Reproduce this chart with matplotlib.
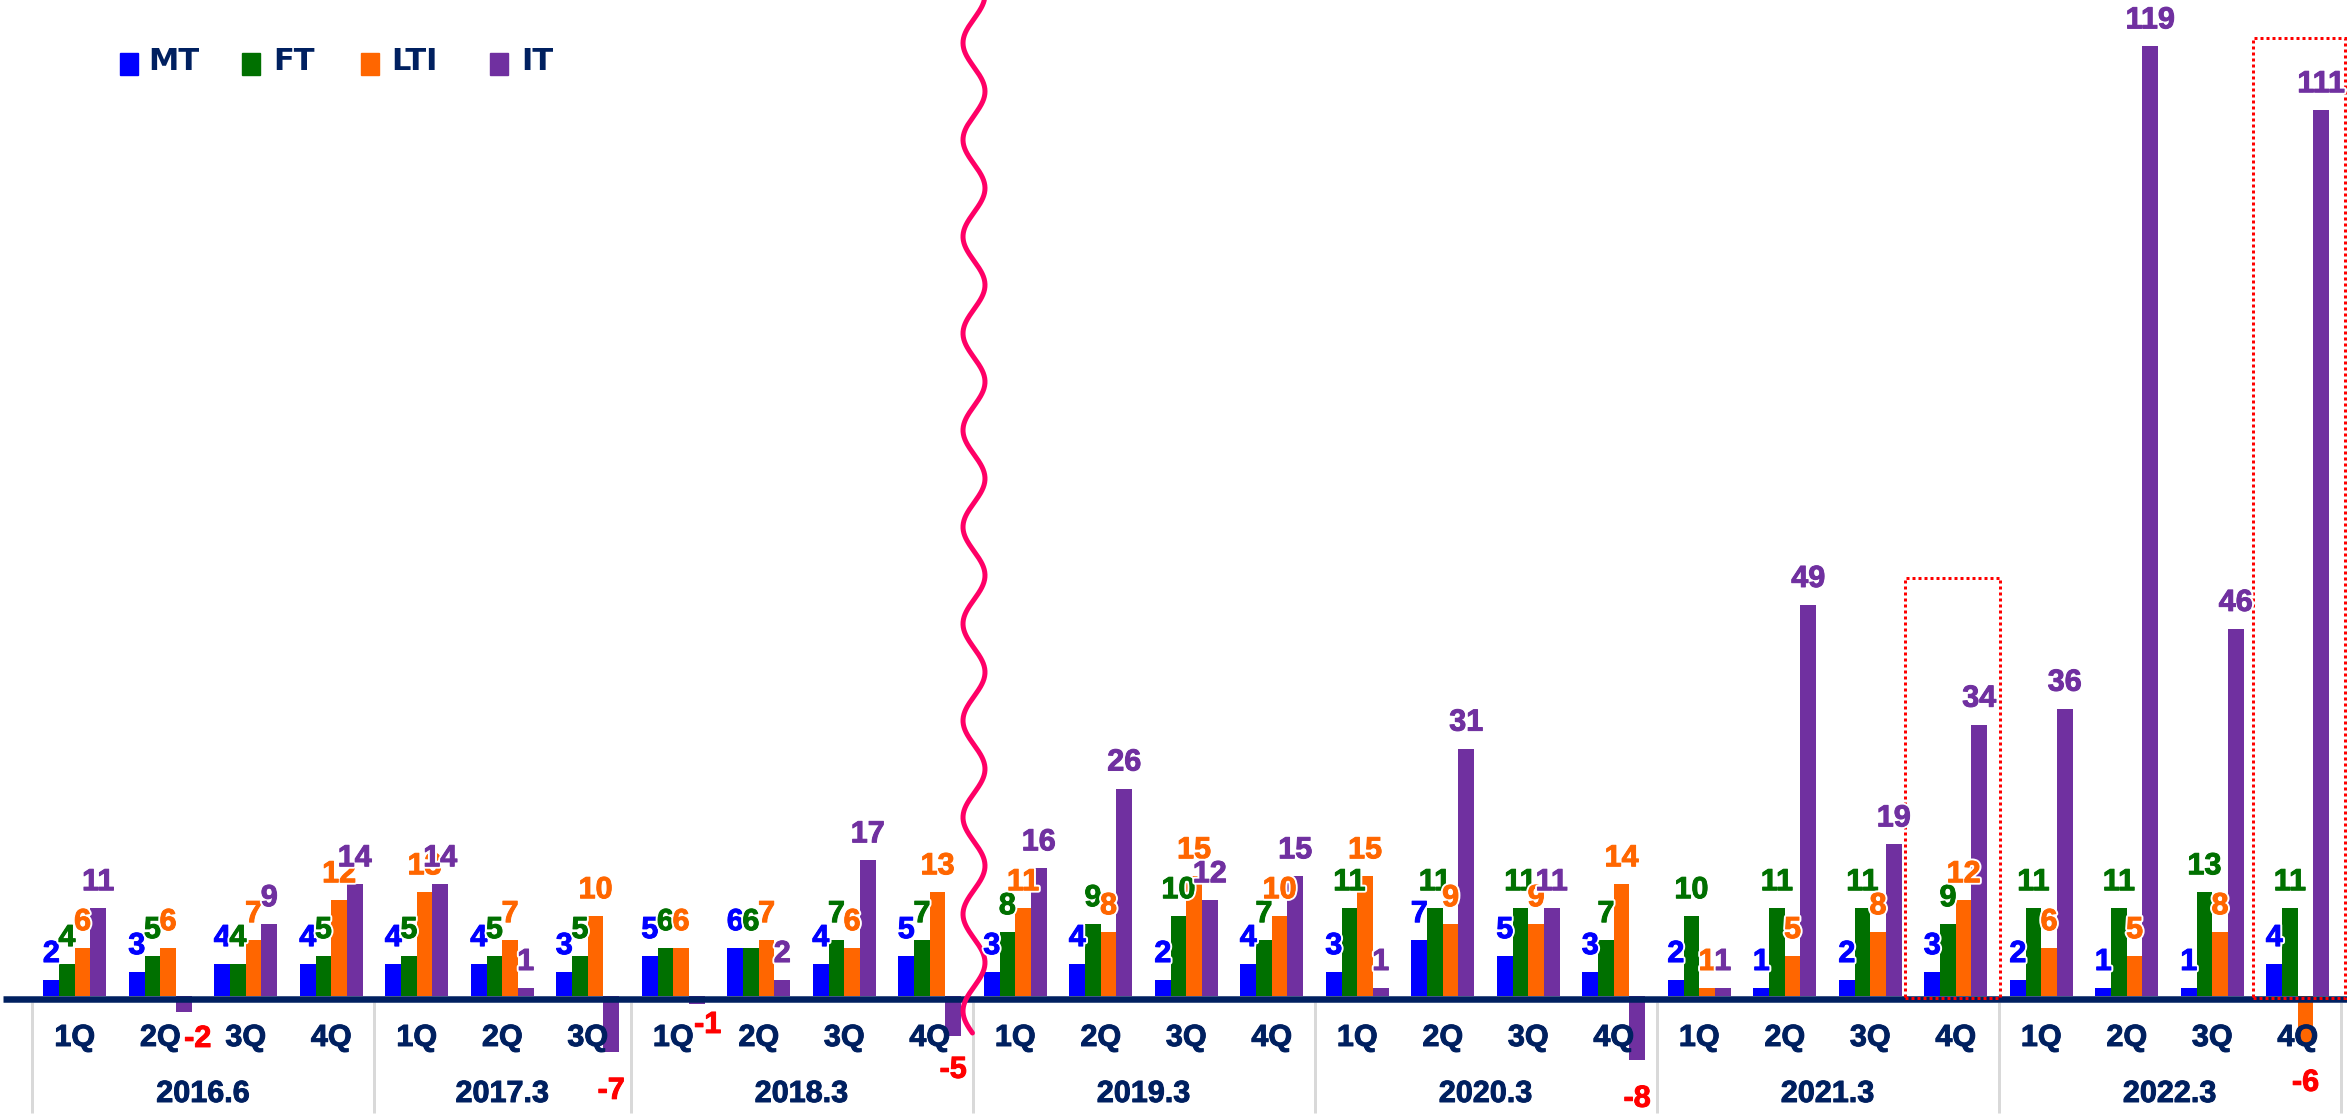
import matplotlib
matplotlib.use("Agg")
import matplotlib.pyplot as plt
import numpy as np
from matplotlib.patches import Rectangle
import matplotlib.patheffects as pe

# ---------------- data ----------------
years = ["2016.6", "2017.3", "2018.3", "2019.3", "2020.3", "2021.3", "2022.3"]
quarters = [["1Q", "2Q", "3Q", "4Q"], ["1Q", "2Q", "3Q"], ["1Q", "2Q", "3Q", "4Q"],
            ["1Q", "2Q", "3Q", "4Q"], ["1Q", "2Q", "3Q", "4Q"], ["1Q", "2Q", "3Q", "4Q"],
            ["1Q", "2Q", "3Q", "4Q"]]
series_names = ["MT", "FT", "LTI", "IT"]
mt = [2, 3, 4, 4, 4, 4, 3, 5, 6, 4, 5, 3, 4, 2, 4, 3, 7, 5, 3, 2, 1, 2, 3, 2, 1, 1, 4]
ft = [4, 5, 4, 5, 5, 5, 5, 6, 6, 7, 7, 8, 9, 10, 7, 11, 11, 11, 7, 10, 11, 11, 9, 11, 11, 13, 11]
lti = [6, 6, 7, 12, 13, 7, 10, 6, 7, 6, 13, 11, 8, 15, 10, 15, 9, 9, 14, 1, 5, 8, 12, 6, 5, 8, -6]
it = [11, -2, 9, 14, 14, 1, -7, -1, 2, 17, -5, 16, 26, 12, 15, 1, 31, 11, -8, 1, 49, 19, 34, 36, 119, 46, 111]
series = [mt, ft, lti, it]

# ---------------- style ----------------
colors = ["#0000FF", "#007000", "#FF6600", "#7030A0"]
NAVY = "#002060"
NEG = "#FF0000"
LAB = ["Liberation Sans", "DejaVu Sans"]

W, H = 2347, 1120
PX0, GW, Z0, S = 32.0, 85.5, 996.0, 7.98


def xd(px):
    return (px - PX0) / GW - 0.5


def yd(py):
    return (Z0 - py) / S


PT = 0.72  # points per pixel at dpi 100

fig = plt.figure(figsize=(W / 100, H / 100), dpi=100)
ax = fig.add_axes([0, 0, 1, 1])
ax.set_xlim(xd(0), xd(W))
ax.set_ylim(yd(H), yd(0))
ax.axis("off")

n = len(mt)
x = np.arange(n)
bw = 0.183
offs = np.array([-1.5, -0.5, 0.5, 1.5]) * bw

for k, (vals, c) in enumerate(zip(series, colors)):
    ax.bar(x + offs[k], vals, width=bw, color=c, zorder=2, linewidth=0)

# axis line
ax.plot([xd(3), xd(W)], [yd(999), yd(999)], color=NAVY, lw=6.5 * PT,
        solid_capstyle="butt", zorder=3)


def fx(c):
    return [pe.Stroke(linewidth=3.5, foreground="white"),
            pe.Stroke(linewidth=0.7, foreground=c), pe.Normal()]


# value labels
neg_nudge = {1: (14, 35), 7: (11, 29), 10: (0, 42)}
for k, (vals, c) in enumerate(zip(series, colors)):
    for i, v in enumerate(vals):
        xi = x[i] + offs[k]
        if v >= 0:
            ax.annotate(str(v), (xi, v), xytext=(0, 18 * PT), textcoords="offset points",
                        ha="center", va="baseline", color=c, fontsize=22,
                        fontweight="bold", family=LAB, zorder=6, path_effects=fx(c))
        else:
            dx, dy = neg_nudge.get(i, (0, 47)) if k == 3 else (0, 47)
            ax.annotate(str(v), (xi, v), xytext=(dx * PT, -dy * PT),
                        textcoords="offset points", ha="center", va="baseline",
                        color=NEG, fontsize=22, fontweight="bold", family=LAB,
                        zorder=6, path_effects=fx(NEG))

# category labels and separators
tfx = [pe.Stroke(linewidth=0.7, foreground=NAVY), pe.Normal()]
pos = 0
bounds = [-0.5]
for yr, qs in zip(years, quarters):
    for j, q in enumerate(qs):
        ax.text(pos + j, yd(1046), q, ha="center", va="baseline", color=NAVY,
                fontsize=22, fontweight="bold", family=LAB, zorder=5, path_effects=tfx)
    ax.text(pos + (len(qs) - 1) / 2, yd(1102), yr, ha="center", va="baseline",
            color=NAVY, fontsize=22, fontweight="bold", family=LAB, zorder=5,
            path_effects=tfx)
    pos += len(qs)
    bounds.append(pos - 0.5)
for b in bounds:
    ax.plot([b, b], [yd(1002), yd(1113)], color="#D9D9D9", lw=3 * PT, zorder=1,
            solid_capstyle="butt")

# wavy break line
wy = np.linspace(0, 1033, 1200)
wx = 974 + 11 * np.cos(2 * np.pi * (wy - 43) / 96.8 + np.pi)
ax.plot(xd(wx), yd(wy), color="#FF0066", lw=5 * PT, zorder=4,
        solid_capstyle="round")

# dotted highlight boxes
for (l, t, r, b) in [(1905, 578, 2000, 998), (2253, 38, 2345, 998)]:
    ax.add_patch(Rectangle((xd(l), yd(b)), xd(r) - xd(l), yd(t) - yd(b),
                           fill=False, edgecolor="#FF0000", lw=3 * PT,
                           linestyle=(0, (1, 1)), zorder=4))

# legend
sq_x = [120, 242, 361, 490]
tx_x = [148, 273, 391, 521]
for name, c, sx, tx in zip(series_names, colors, sq_x, tx_x):
    ax.add_patch(Rectangle((xd(sx), yd(75)), 18 / GW, 22 / S, color=c, zorder=5))
    ax.text(xd(tx), yd(70), name, ha="left", va="baseline", color=NAVY,
            fontsize=22, fontweight="bold", family="DejaVu Sans", zorder=5)

fig.savefig("out.png", dpi=100)
